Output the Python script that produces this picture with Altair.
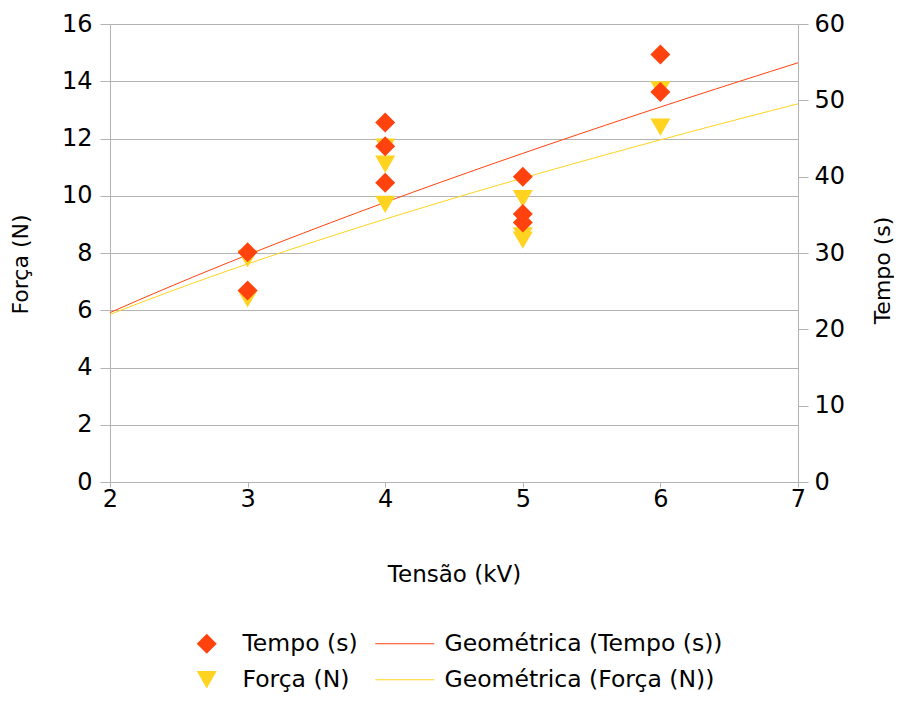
import altair as alt
import pandas as pd

# ---- data ----
tensao_tempo = [3, 3, 4, 4, 4, 5, 5, 5, 6, 6]
tempo_s = [30.1, 25.1, 47.1, 44.0, 39.2, 40.0, 35.1, 34.0, 56.0, 51.1]
tensao_forca = [3, 3, 4, 4, 4, 5, 5, 5, 6, 6]
forca_n = [7.8, 6.4, 11.7, 11.1, 9.7, 9.9, 8.6, 8.45, 13.7, 12.4]

series_pts = ["Tempo (s)", "Força (N)"]
series_fit = ["Geométrica (Tempo (s))", "Geométrica (Força (N))"]
cores = ["#ff420e", "#ffd320"]
formas = ["diamond", "triangle-down"]

x_ticks = [2, 3, 4, 5, 6, 7]
forca_ticks = [0, 2, 4, 6, 8, 10, 12, 14, 16]
tempo_ticks = [0, 10, 20, 30, 40, 50, 60]

df_tempo = pd.DataFrame({"tensao": tensao_tempo, "valor": tempo_s, "serie": series_pts[0]})
df_forca = pd.DataFrame({"tensao": tensao_forca, "valor": forca_n, "serie": series_pts[1]})

FONT = "DejaVu Sans"
GRAY = "#b3b3b3"

x_enc = alt.X(
    "tensao:Q",
    scale=alt.Scale(domain=[2, 7], nice=False, zero=False),
    axis=alt.Axis(title="Tensão (kV)", values=x_ticks, grid=False, tickSize=5,
                  labelPadding=0, labelFlush=False, titlePadding=52, titleFontSize=23,
                  format="d"),
)

y_forca = alt.Y(
    "valor:Q",
    scale=alt.Scale(domain=[0, 16], nice=False),
    axis=alt.Axis(title="Força (N)", values=forca_ticks, grid=True, orient="left",
                  tickSize=10, labelPadding=8, titlePadding=29, titleY=240, format="d"),
)
y_forca_noaxis = alt.Y("valor:Q", scale=alt.Scale(domain=[0, 16], nice=False), axis=None)
y_tempo = alt.Y(
    "valor:Q",
    scale=alt.Scale(domain=[0, 60], nice=False),
    axis=alt.Axis(title="Tempo (s)", values=tempo_ticks, grid=False, orient="right",
                  tickSize=10, labelPadding=6, titlePadding=50, titleAngle=270,
                  titleY=246, format="d"),
)
y_tempo_noaxis = alt.Y("valor:Q", scale=alt.Scale(domain=[0, 60], nice=False), axis=None)

leg_pts = alt.Legend(
    title=None, orient="none", legendX=85, legendY=608,
    symbolSize=400, symbolStrokeWidth=0, labelOffset=24, rowPadding=11,
    labelFontSize=23.5, labelFont=FONT, labelColor="black", labelLimit=500,
)
leg_fit = alt.Legend(
    title=None, orient="none", legendX=283, legendY=608,
    symbolType="M-2.95,0L2.95,0", symbolSize=400, symbolStrokeWidth=1, labelOffset=28,
    rowPadding=11, labelFontSize=23.5, labelFont=FONT, labelColor="black", labelLimit=500,
)

color_pts = alt.Color("serie:N", scale=alt.Scale(domain=series_pts, range=cores), legend=leg_pts)
shape_pts = alt.Shape("serie:N", scale=alt.Scale(domain=series_pts, range=formas), legend=leg_pts)
stroke_fit = alt.Stroke("fit:N", scale=alt.Scale(domain=series_fit, range=cores), legend=leg_fit)

forca_line = (
    alt.Chart(df_forca)
    .transform_regression("tensao", "valor", method="pow", extent=[2, 7])
    .transform_calculate(fit="'Geométrica (Força (N))'")
    .mark_line(strokeWidth=1)
    .encode(x=x_enc, y=y_forca, stroke=stroke_fit)
)
tempo_line = (
    alt.Chart(df_tempo)
    .transform_regression("tensao", "valor", method="pow", extent=[2, 7])
    .transform_calculate(fit="'Geométrica (Tempo (s))'")
    .mark_line(strokeWidth=1)
    .encode(x=x_enc, y=y_tempo, stroke=stroke_fit)
)
forca_pts = (
    alt.Chart(df_forca)
    .mark_point(filled=True, size=400, opacity=1, strokeWidth=0)
    .encode(x=x_enc, y=y_forca_noaxis, color=color_pts, shape=shape_pts)
)
tempo_pts = (
    alt.Chart(df_tempo)
    .mark_point(filled=True, size=400, opacity=1, strokeWidth=0)
    .encode(x=x_enc, y=y_tempo_noaxis, color=color_pts, shape=shape_pts)
)

chart = (
    alt.layer(forca_line, tempo_line, forca_pts, tempo_pts)
    .resolve_scale(y="independent")
    .properties(
        width=688, height=458,
        autosize=alt.AutoSizeParams(type="none"),
        padding={"left": 102, "top": 16, "right": 96, "bottom": 214},
    )
    .configure_view(stroke=None)
    .configure_axis(
        domainColor=GRAY, tickColor=GRAY, gridColor=GRAY,
        labelFont=FONT, labelFontSize=24, labelColor="black",
        titleFont=FONT, titleFontSize=22, titleFontWeight="normal", titleColor="black",
    )
)

chart.save("out.html", embed_options={"renderer": "svg", "actions": False})
